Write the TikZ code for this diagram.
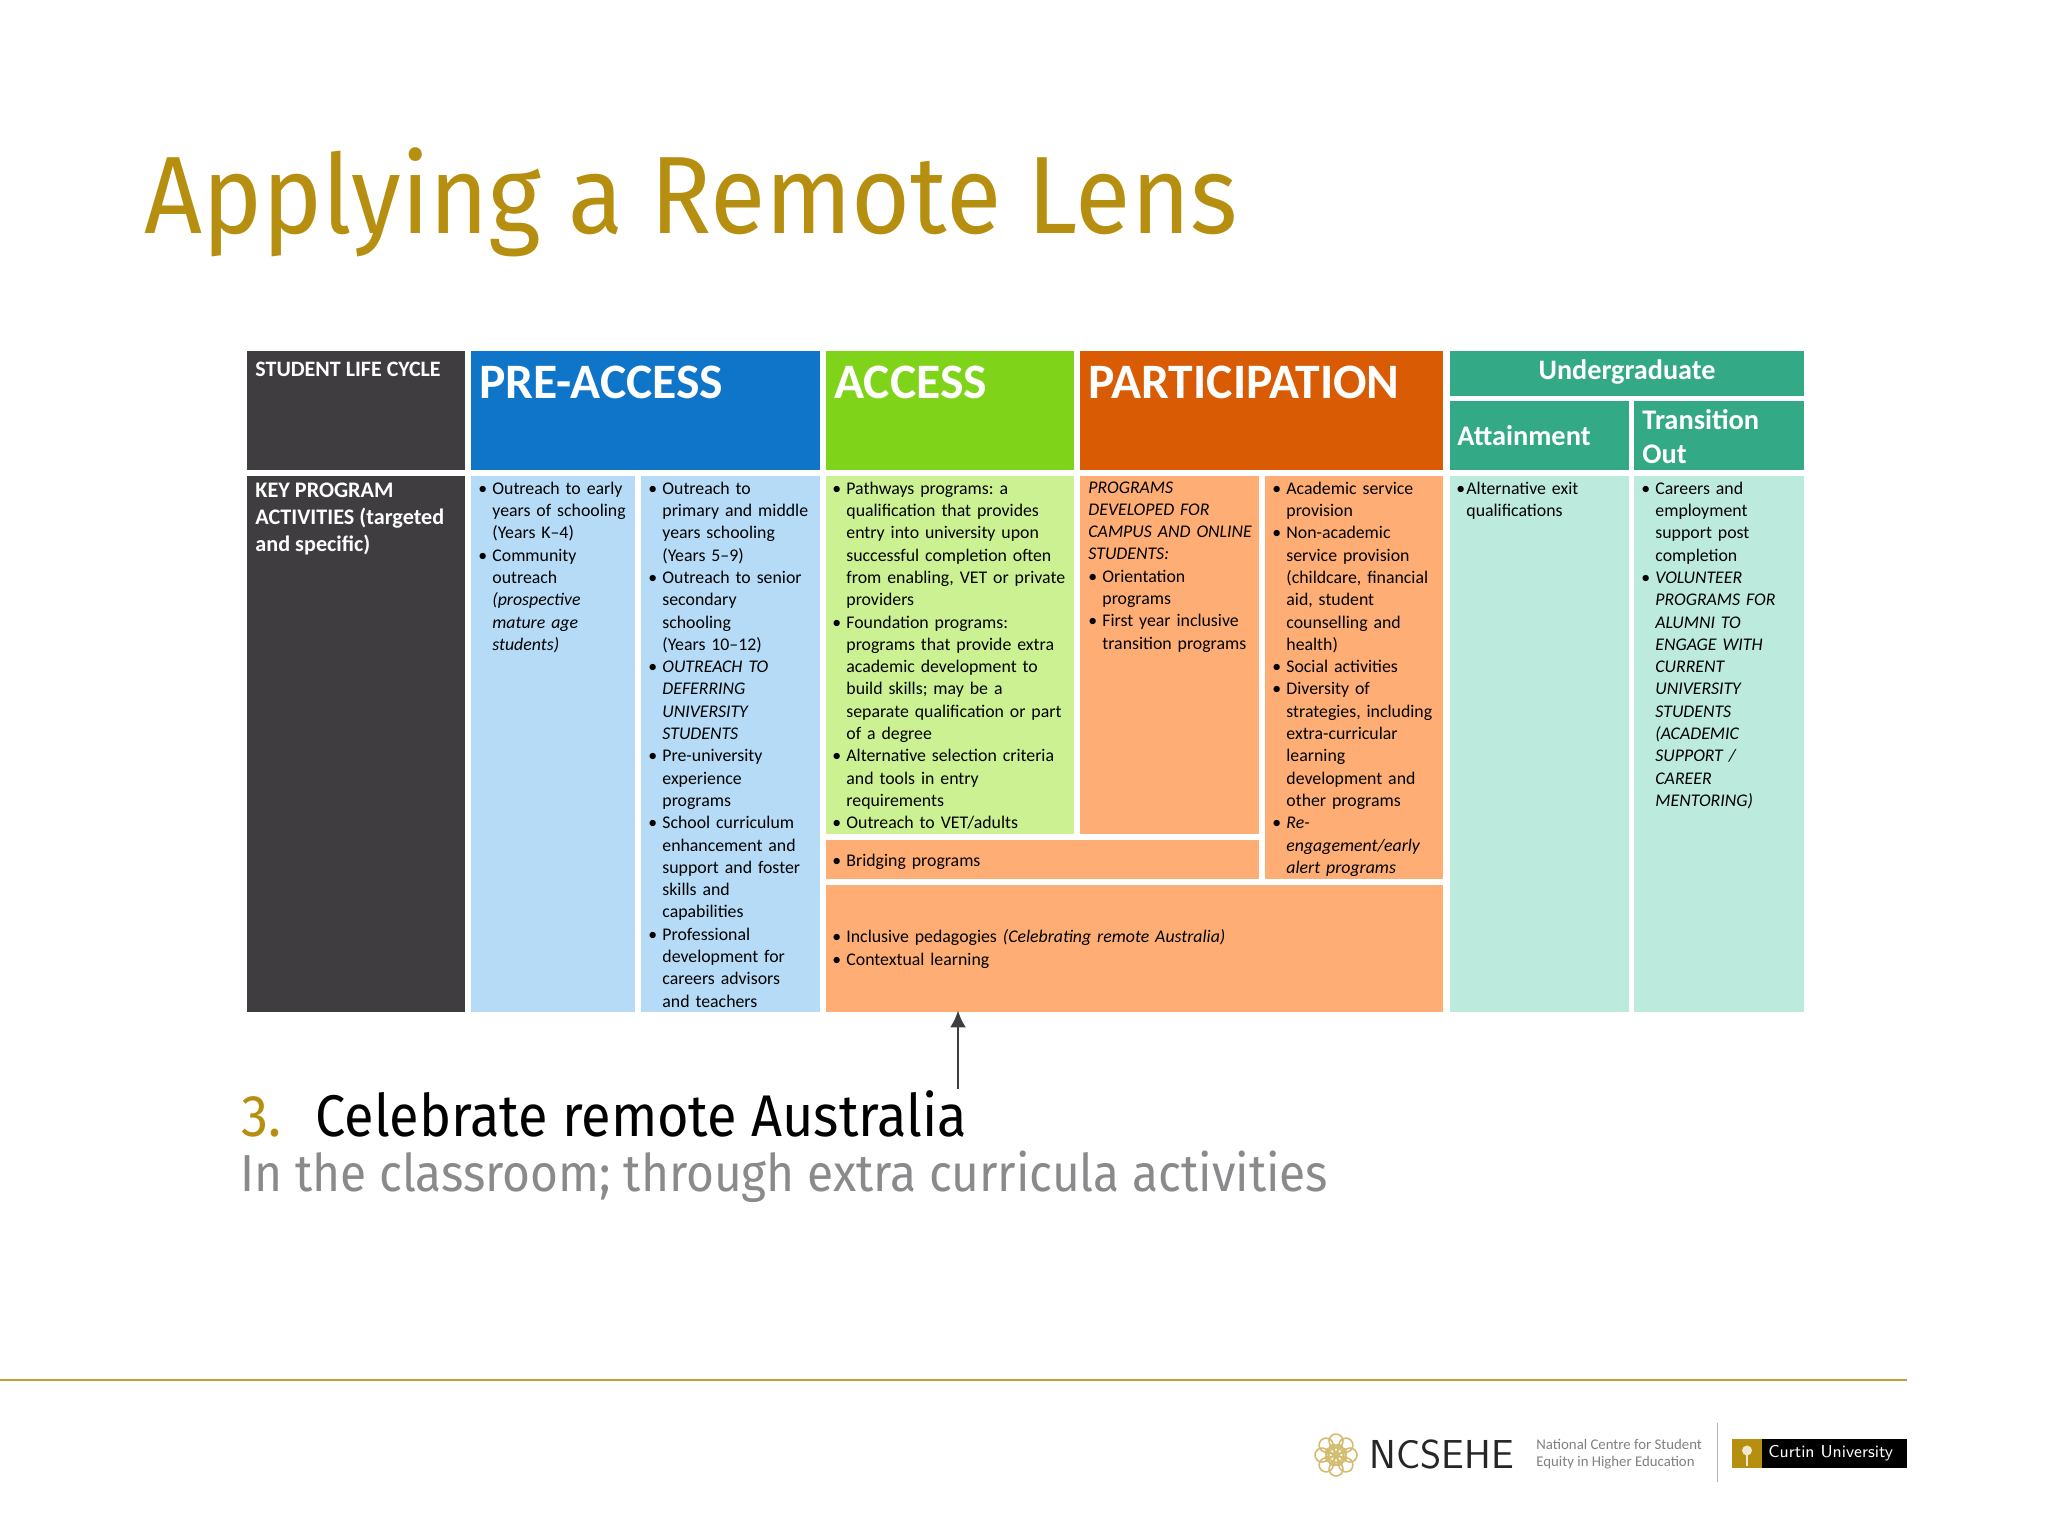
\documentclass[tikz,border=0pt]{standalone}
\usepackage{fontspec}
\setmainfont{Carlito}
\newfontfamily\titlefont[FakeStretch=0.92]{Fira Sans}
\usetikzlibrary{arrows.meta}
\definecolor{darkcell}{HTML}{3F3D40}
\definecolor{preblue}{HTML}{0F75C9}
\definecolor{prelight}{HTML}{B5DBF7}
\definecolor{accgreen}{HTML}{7FD419}
\definecolor{acclight}{HTML}{CBF192}
\definecolor{partorange}{HTML}{D95B04}
\definecolor{partlight}{HTML}{FEAE75}
\definecolor{ugteal}{HTML}{34A985}
\definecolor{uglight}{HTML}{BCEADD}
\definecolor{curtingold}{HTML}{B68F10}
\definecolor{subgray}{HTML}{8A898C}
\newcommand{\blt}[1][7pt]{\par\leftskip=#1\noindent\strut\hskip-#1\hbox to #1{\textbullet\hfil}\ignorespaces}
\tikzset{
	cell/.style n args={3}{anchor=north west,inner sep=0pt,outer sep=0pt,fill=#1,minimum width=#2*0.5pt,minimum height=#3*0.5pt},
	listtext/.style={anchor=north west,inner sep=0pt,align=left,text width=#1*0.5pt,font=\fontsize{8.9}{11.15}\selectfont\frenchspacing},
	headlabel/.style={anchor=north west,inner sep=0pt,align=left,text=white,font=\fontsize{#1}{#1}\selectfont\bfseries},
	sidelabel/.style={anchor=north west,inner sep=0pt,align=left,text=white,font=\fontsize{11.1}{13.5}\selectfont\bfseries}
}
\begin{document}
\begin{tikzpicture}[x=0.5pt,y=-0.5pt]
	\useasboundingbox (0,0) rectangle (2048,1536);

	\node [anchor=base west,inner sep=0pt,text=curtingold,font=\titlefont\fontsize{55}{55}\selectfont] (title) at (144,233) {Applying a Remote Lens};

	% top row
	\node [cell={darkcell}{218}{119}] (lifecell) at (247,351) {};
	\node [cell={preblue}{349}{119}] (prehead) at (471,351) {};
	\node [cell={accgreen}{248}{119}] (acchead) at (826,351) {};
	\node [cell={partorange}{363}{119}] (parthead) at (1080,351) {};
	\node [cell={ugteal}{354}{45}] (ughead) at (1450,351) {};
	\node [cell={ugteal}{179}{69}] (attainhead) at (1450,401) {};
	\node [cell={ugteal}{170}{69}] (transhead) at (1634,401) {};

	\node [headlabel=11] (lifetext) at (255,362) {STUDENT LIFE CYCLE};
	\node [headlabel=24.8] (pretext) at (479,366) {PRE-ACCESS};
	\node [headlabel=24.8] (acctext) at (834,366) {ACCESS};
	\node [headlabel=24.8] (parttext) at (1088,366) {PARTICIPATION};
	\node [text=white,font=\fontsize{14.1}{14.1}\selectfont\bfseries] (ugtext) at ([yshift=1pt]ughead.center) {Undergraduate};
	\node [headlabel=14,font=\fontsize{14.2}{17}\selectfont\bfseries] (attaintext) at (1457,425) {Attainment};
	\node [headlabel=14,font=\fontsize{14.2}{17}\selectfont\bfseries] (transtext) at (1642,409) {Transition\\Out};

	% second row
	\node [cell={darkcell}{218}{536}] (keycell) at (247,476) {};
	\node [cell={prelight}{164}{536}] (preone) at (471,476) {};
	\node [cell={prelight}{179}{536}] (pretwo) at (641,476) {};
	\node [cell={acclight}{248}{358}] (accbox) at (826,476) {};
	\node [cell={partlight}{179}{358}] (partone) at (1080,476) {};
	\node [cell={partlight}{178}{403}] (parttwo) at (1265,476) {};
	\node [cell={partlight}{433}{39}] (bridging) at (826,840) {};
	\node [cell={partlight}{617}{127}] (inclusive) at (826,885) {};
	\node [cell={uglight}{179}{536}] (attainbox) at (1450,476) {};
	\node [cell={uglight}{170}{536}] (transbox) at (1634,476) {};

	\node [sidelabel] (keytext) at (255,483) {KEY PROGRAM\\ACTIVITIES (targeted\\and specific)};

	\node [listtext=160] (preonetext) at (478,471.5) {
		\blt Outreach to early\\years of schooling\\(Years K--4)
		\blt Community\\outreach\\\textit{(prospective\\mature age\\students)}\par};
	\node [listtext=175] (pretwotext) at (648,471.5) {
		\blt Outreach to\\primary and middle\\years schooling\\(Years 5--9)
		\blt Outreach to senior\\secondary\\schooling\\(Years 10--12)
		\blt \textit{OUTREACH TO\\DEFERRING\\UNIVERSITY\\STUDENTS}
		\blt Pre-university\\experience\\programs
		\blt School curriculum\\enhancement and\\support and foster\\skills and\\capabilities
		\blt Professional\\development for\\careers advisors\\and teachers\par};
	\node [listtext=245] (acctxt) at (832,471.5) {
		\blt Pathways programs: a\\qualification that provides\\entry into university upon\\successful completion often\\from enabling, VET or private\\providers
		\blt Foundation programs:\\programs that provide extra\\academic development to\\build skills; may be a\\separate qualification or part\\of a degree
		\blt Alternative selection criteria\\and tools in entry\\requirements
		\blt Outreach to VET/adults\par};
	\node [listtext=175] (partonetext) at (1088,477) {
		\noindent\strut\textit{PROGRAMS\\DEVELOPED FOR\\CAMPUS AND ONLINE\\STUDENTS:}
		\blt Orientation\\programs
		\blt First year inclusive\\transition programs\par};
	\node [listtext=175] (parttwotext) at (1272,471.5) {
		\blt Academic service\\provision
		\blt Non-academic\\service provision\\(childcare, financial\\aid, student\\counselling and\\health)
		\blt Social activities
		\blt Diversity of\\strategies, including\\extra-curricular\\learning\\development and\\other programs
		\blt \textit{Re-\\engagement/early\\alert programs}\par};
	\node [listtext=170] (attaintext2) at (1456,471.5) {
		\blt[5pt] Alternative exit\\qualifications\par};
	\node [listtext=165] (transtext2) at (1641,471.5) {
		\blt Careers and\\employment\\support post\\completion
		\blt \textit{VOLUNTEER\\PROGRAMS FOR\\ALUMNI TO\\ENGAGE WITH\\CURRENT\\UNIVERSITY\\STUDENTS\\(ACADEMIC\\SUPPORT /\\CAREER\\MENTORING)}\par};
	\node [listtext=300,anchor=west] (bridgingtext) at ([xshift=3pt,yshift=0.6pt]bridging.west) {\blt Bridging programs\par};
	\node [listtext=500,anchor=west,font=\fontsize{8.9}{11.75}\selectfont\frenchspacing] (inclusivetext) at ([xshift=3pt,yshift=1.3pt]inclusive.west) {
		\blt Inclusive pedagogies \textit{(Celebrating remote Australia)}
		\blt Contextual learning\par};

	% lower text and arrow
	\coordinate (arrowfoot) at (958,1089);
	\draw [-{Latex[length=8.5pt,width=8pt]},line width=1.2pt,draw=darkcell,shorten >=-0.8pt] (arrowfoot) -- (arrowfoot |- inclusive.south);
	\node [anchor=base west,inner sep=0pt,text=curtingold,font=\titlefont\fontsize{29.4}{29.4}\selectfont] (three) at (241,1136) {3.};
	\node [anchor=base west,inner sep=0pt,text=black,font=\titlefont\fontsize{29.4}{29.4}\selectfont] (celebrate) at (315,1136) {Celebrate remote Australia};
	\node [anchor=base west,inner sep=0pt,text=subgray,font=\titlefont\fontsize{26}{26}\selectfont] (inclass) at (240,1191) {In the classroom; through extra curricula activities};

	% footer
	\draw [curtingold!85!white,line width=0.8pt] (0,1380) -- (1907,1380);
	\foreach \a in {0,45,...,315} {
		\draw [curtingold!60!white,line width=0.8pt] (1336,1455) ++(\a:14) circle (7);
	}
	\foreach \a in {22,67,...,337} {
		\draw [curtingold!60!white,line width=0.8pt] (1336,1455) ++(\a:6) circle (5);
	}
	\node [anchor=base west,inner sep=0pt,text=black!85,font=\fontsize{20.2}{20.2}\selectfont\sffamily] (ncsehe) at (1369,1468) {NCSEHE};
	\node [anchor=north west,inner sep=0pt,align=left,text=black!50,font=\fontsize{7.4}{8.6}\selectfont] (ncsfull) at (1536,1439) {National Centre for Student\\Equity in Higher Education};
	\draw [black!30,line width=0.5pt] (1717,1423) -- (1717,1482);
	\node [cell={curtingold}{30}{29}] (curtinmark) at (1732,1439) {};
	\node [cell={black}{145}{29}] (curtinbar) at (1762,1439) {};
	\fill [white!80!curtingold] (curtinmark.center) ++(0,-3) circle (5);
	\draw [white!80!curtingold,line width=0.6pt] (curtinmark.center) -- ++(0,12);
	\node [anchor=west,inner sep=0pt,text=white,font=\fontsize{8.6}{8.6}\selectfont\sffamily] (curtintext) at ([xshift=3pt]curtinbar.west) {Curtin University};
\end{tikzpicture}
\end{document}
